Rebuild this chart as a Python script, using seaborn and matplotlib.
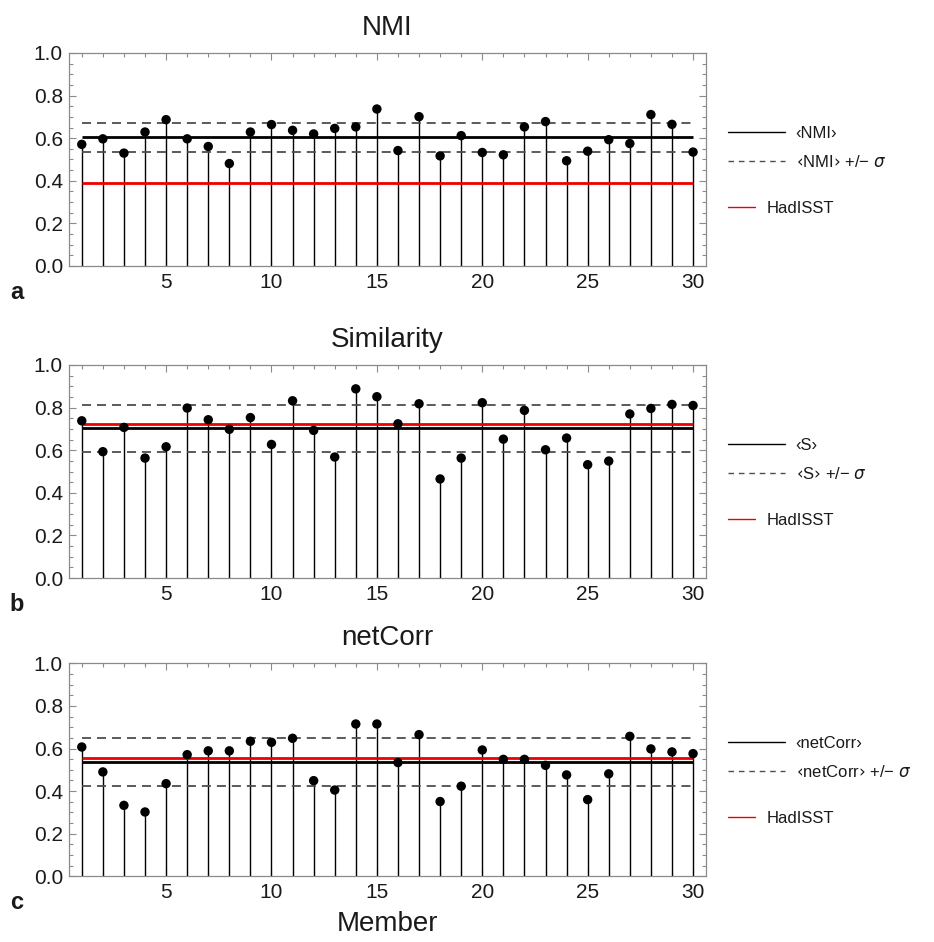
import numpy as np
import pandas as pd
import matplotlib
matplotlib.use("Agg")
import matplotlib.pyplot as plt
from matplotlib.lines import Line2D
from matplotlib.ticker import MultipleLocator, FormatStrFormatter
import seaborn as sns

# ---------------- data ----------------
members = list(range(1, 31))

nmi = [0.571, 0.597, 0.530, 0.629, 0.687, 0.597, 0.561, 0.481, 0.629, 0.664,
       0.637, 0.620, 0.646, 0.653, 0.737, 0.542, 0.701, 0.517, 0.612, 0.533,
       0.522, 0.653, 0.678, 0.494, 0.539, 0.593, 0.575, 0.711, 0.665, 0.535]
nmi_mean = 0.604
nmi_sd = 0.068
nmi_had = 0.388

sim = [0.738, 0.593, 0.707, 0.563, 0.616, 0.798, 0.743, 0.698, 0.753, 0.627,
       0.832, 0.693, 0.568, 0.888, 0.851, 0.724, 0.818, 0.465, 0.563, 0.823,
       0.652, 0.787, 0.602, 0.657, 0.532, 0.549, 0.770, 0.796, 0.815, 0.810]
sim_mean = 0.702
sim_sd = 0.112
sim_had = 0.721

corr = [0.607, 0.490, 0.333, 0.302, 0.435, 0.571, 0.589, 0.589, 0.634, 0.629,
        0.648, 0.449, 0.405, 0.715, 0.715, 0.534, 0.665, 0.351, 0.423, 0.593,
        0.549, 0.549, 0.521, 0.476, 0.360, 0.481, 0.657, 0.598, 0.584, 0.576]
corr_mean = 0.537
corr_sd = 0.113
corr_had = 0.554

titles = ["NMI", "Similarity", "netCorr"]
short_names = ["NMI", "S", "netCorr"]
panel_letters = ["a", "b", "c"]
yticks = [0.0, 0.2, 0.4, 0.6, 0.8, 1.0]
xticks = [5, 10, 15, 20, 25, 30]

# ---------------- style ----------------
sns.set_theme(style="ticks")
plt.rcParams["font.family"] = ["Liberation Sans", "DejaVu Sans"]
plt.rcParams["mathtext.fontset"] = "dejavusans"

SPINE = "#8a8a8a"
TXT = "#1a1a1a"
DASH = "#4d4d4d"

fig = plt.figure(figsize=(9.34, 9.42), dpi=100)

W = 934.0
H = 942.0
ax_left = 68.5 / W
ax_width = (705.7 - 68.5) / W
ax_tops = [53.0, 365.0, 663.3]
ax_h = 213.0

datasets = [
    (nmi, nmi_mean, nmi_sd, nmi_had),
    (sim, sim_mean, sim_sd, sim_had),
    (corr, corr_mean, corr_sd, corr_had),
]

for i, (vals, mval, sd, had) in enumerate(datasets):
    top = ax_tops[i]
    ax = fig.add_axes([ax_left, 1 - (top + ax_h) / H, ax_width, ax_h / H])
    df = pd.DataFrame({"member": members, "value": vals})

    # stems
    ax.vlines(df["member"], 0, df["value"], color="black", lw=1.0, zorder=2)
    # reference lines
    x0, x1 = members[0], members[-1]
    ax.hlines([mval - sd, mval + sd], x0, x1, color=DASH, lw=1.3,
              linestyles=(0, (5, 3.3)), zorder=2)
    ax.hlines(mval, x0, x1, color="black", lw=2.0, zorder=3)
    ax.hlines(had, x0, x1, color="#ee0000", lw=2.0, zorder=3)
    # points
    sns.scatterplot(data=df, x="member", y="value", ax=ax, color="black",
                    s=46, edgecolor="none", linewidth=0, zorder=4, legend=False)

    ax.set_xlim(0.37, 30.6)
    ax.set_ylim(0.0, 1.0)
    ax.set_xticks(xticks)
    ax.xaxis.set_minor_locator(MultipleLocator(1))
    ax.set_yticks(yticks)
    ax.yaxis.set_minor_locator(MultipleLocator(0.05))
    ax.yaxis.set_major_formatter(FormatStrFormatter("%.1f"))
    ax.tick_params(which="both", direction="in", top=True, right=True,
                   color=SPINE, width=0.8)
    ax.tick_params(which="major", length=5)
    ax.tick_params(which="minor", length=3)
    ax.tick_params(axis="x", which="major", labelsize=15, pad=5, labelcolor=TXT)
    ax.tick_params(axis="y", which="major", labelsize=15, pad=4, labelcolor=TXT)
    for sp in ax.spines.values():
        sp.set_color(SPINE)
        sp.set_linewidth(0.9)
    ax.set_xlabel("")
    ax.set_ylabel("")
    ax.set_title(titles[i], fontsize=20, pad=13, color=TXT)

    ax.text(-0.081, -0.125, panel_letters[i], transform=ax.transAxes,
            fontsize=17, fontweight="bold", ha="center", va="center", color=TXT)

    nm = short_names[i]
    h1 = [Line2D([], [], color="black", lw=1.0),
          Line2D([], [], color=DASH, lw=1.0, linestyle=(0, (4, 3.5)))]
    l1 = [f"‹{nm}›", f"‹{nm}› +/− $\\sigma$"]
    leg1 = ax.legend(h1, l1, loc="center left", bbox_to_anchor=(1.035, 0.555),
                     frameon=False, fontsize=12, handlelength=3.4,
                     handletextpad=0.66, labelspacing=0.8, borderpad=0,
                     borderaxespad=0, labelcolor=TXT)
    ax.add_artist(leg1)
    h2 = [Line2D([], [], color="#ee0000", lw=1.0)]
    ax.legend(h2, ["HadISST"], loc="center left", bbox_to_anchor=(1.035, 0.272),
              frameon=False, fontsize=12, handlelength=1.6,
              handletextpad=0.7, borderpad=0, borderaxespad=0, labelcolor=TXT)

    if i == 2:
        ax.set_xlabel("Member", fontsize=20, labelpad=6, color=TXT)

fig.savefig("out.png", dpi=100)
